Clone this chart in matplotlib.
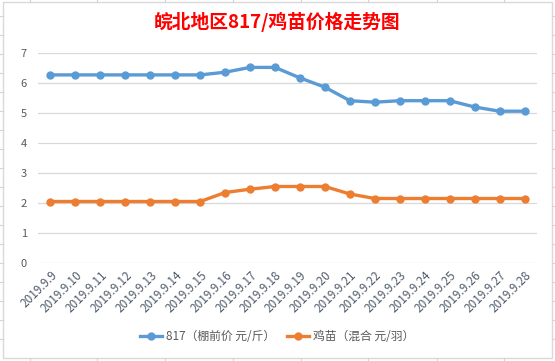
import matplotlib.pyplot as plt
from matplotlib.lines import Line2D
from matplotlib.patches import Rectangle

plt.rcParams['font.family'] = ['Noto Sans CJK SC', 'DejaVu Sans']

# 日期与价格
dates = ['2019.9.%d' % d for d in range(9, 29)]
price_817 = [6.27, 6.27, 6.27, 6.27, 6.27, 6.27, 6.27, 6.36, 6.52, 6.52,
             6.17, 5.86, 5.41, 5.36, 5.41, 5.41, 5.41, 5.2, 5.06, 5.06]
price_chick = [2.05, 2.05, 2.05, 2.05, 2.05, 2.05, 2.05, 2.35, 2.46, 2.55,
               2.55, 2.55, 2.3, 2.15, 2.15, 2.15, 2.15, 2.15, 2.15, 2.15]
label_817 = '817（棚前价 元/斤）'
label_chick = '鸡苗（混合 元/羽）'
yticks = list(range(0, 8))

W, H = 555, 361
fig = plt.figure(figsize=(W / 100, H / 100), dpi=100)

# 表格背景的网格线头
grid_c = '#D4D4D4'
for y in [16, 35, 54, 73, 92, 111, 130, 149, 168, 187, 206, 225, 244, 263, 282, 301, 320, 339]:
    fig.add_artist(Line2D([0, 3 / W], [1 - y / H] * 2, color=grid_c, lw=0.8))
    fig.add_artist(Line2D([552 / W, 1], [1 - y / H] * 2, color=grid_c, lw=0.8))
for x in [30, 97, 165, 233, 301, 368, 437, 504]:
    fig.add_artist(Line2D([x / W] * 2, [1, 1 - 2 / H], color=grid_c, lw=0.8))
    fig.add_artist(Line2D([x / W] * 2, [0, 3 / H], color=grid_c, lw=0.8))
fig.add_artist(Rectangle((3 / W, 3 / H), 549 / W, 356 / H, fill=False,
                         edgecolor='#D9D9D9', lw=1.0))

ax = fig.add_axes([38 / W, 1 - 263 / H, 499 / W, 210 / H])
x = list(range(len(dates)))
ax.plot(x, price_817, color='#5B9BD5', lw=2.4, marker='o', ms=5, label=label_817)
ax.plot(x, price_chick, color='#ED7D31', lw=2.4, marker='o', ms=5, label=label_chick)

ax.set_xlim(-0.5, len(dates) - 0.5)
ax.set_ylim(0, 7)
ax.set_yticks(yticks)
ax.set_xticks(x)
ax.set_xticklabels(dates, rotation=45, ha='right', rotation_mode='anchor',
                   fontsize=8.5, color='#4F5B6B')
ax.tick_params(axis='y', labelsize=8, labelcolor='#595959', length=0, pad=8)
ax.tick_params(axis='x', length=0, pad=4)
ax.grid(axis='y', color='#D9D9D9', lw=0.9)
ax.set_axisbelow(True)
for s in ax.spines.values():
    s.set_visible(False)

fig.text(0.5, 1 - 22 / H, '皖北地区817/鸡苗价格走势图', ha='center', va='center',
         color='#FF0000', fontsize=13.5, fontweight='bold')

fig.legend(loc='center', bbox_to_anchor=(0.5, 1 - 337 / H), ncol=2, frameon=False,
           fontsize=8.5, labelcolor='#595959', handlelength=1.8, columnspacing=1.0,
           handletextpad=0.4)

fig.savefig('out.png', dpi=100)
